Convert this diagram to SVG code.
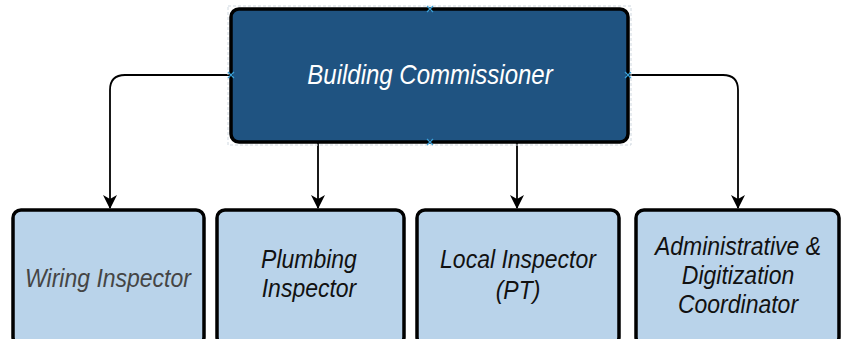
<svg xmlns="http://www.w3.org/2000/svg" width="842" height="339" viewBox="0 0 842 339">
<style>
.box{fill:#b9d3ea;stroke:#000;stroke-width:3.5}
.lbl{font-family:"Liberation Sans",Arial,sans-serif;font-style:italic;font-size:23px;text-anchor:middle;fill:#111}
.conn{fill:none;stroke:#000;stroke-width:1.8}
.mk{stroke:#3aa0d8;stroke-width:1.2}
</style>
<defs>
<marker id="arr" viewBox="0 0 14 14" refX="13" refY="7" markerWidth="14" markerHeight="14" markerUnits="userSpaceOnUse" orient="auto">
<path d="M0,0 L14,7 L0,14 L4,7 Z" fill="#000"/>
</marker>
</defs>
<rect width="842" height="339" fill="#fff"/>
<g id="connectors">
<path class="conn" d="M231,75 H125 Q110,75 110,90 V208" marker-end="url(#arr)"/>
<path class="conn" d="M318,143 V208" marker-end="url(#arr)"/>
<path class="conn" d="M517,143 V208" marker-end="url(#arr)"/>
<path class="conn" d="M628,75 H723 Q738,75 738,90 V208" marker-end="url(#arr)"/>
</g>
<g id="building-commissioner">
<rect x="228" y="6" width="403" height="139" fill="none" stroke="#cfd8e0" stroke-width="1" stroke-dasharray="3,2"/>
<rect x="231" y="9" width="397" height="133" rx="8" fill="#1f5381" stroke="#000" stroke-width="3.5"/>
<text transform="translate(430,84) scale(1,1.12)" class="lbl" style="fill:#fff;font-size:24px">Building Commissioner</text>
<path class="mk" d="M427,6 l6,6 M433,6 l-6,6 M427,139 l6,6 M433,139 l-6,6 M228,72 l6,6 M234,72 l-6,6 M625,72 l6,6 M631,72 l-6,6"/>
</g>
<g id="wiring-inspector">
<rect class="box" x="13" y="210" width="191" height="135" rx="8"/>
<text transform="translate(108,287) scale(1,1.1)" class="lbl" style="fill:#454545">Wiring Inspector</text>
</g>
<g id="plumbing-inspector">
<rect class="box" x="217" y="210" width="187" height="135" rx="8"/>
<text transform="translate(309,268) scale(1,1.1)" class="lbl">Plumbing</text>
<text transform="translate(309,297) scale(1,1.1)" class="lbl">Inspector</text>
</g>
<g id="local-inspector">
<rect class="box" x="417" y="210" width="202" height="135" rx="8"/>
<text transform="translate(518,268) scale(1,1.1)" class="lbl">Local Inspector</text>
<text transform="translate(518,299) scale(1,1.1)" class="lbl">(PT)</text>
</g>
<g id="admin-coordinator">
<rect class="box" x="636" y="210" width="203" height="135" rx="8"/>
<text transform="translate(738,255) scale(1,1.1)" class="lbl">Administrative &amp;</text>
<text transform="translate(738,284) scale(1,1.1)" class="lbl">Digitization</text>
<text transform="translate(738,313) scale(1,1.1)" class="lbl">Coordinator</text>
</g>
</svg>
